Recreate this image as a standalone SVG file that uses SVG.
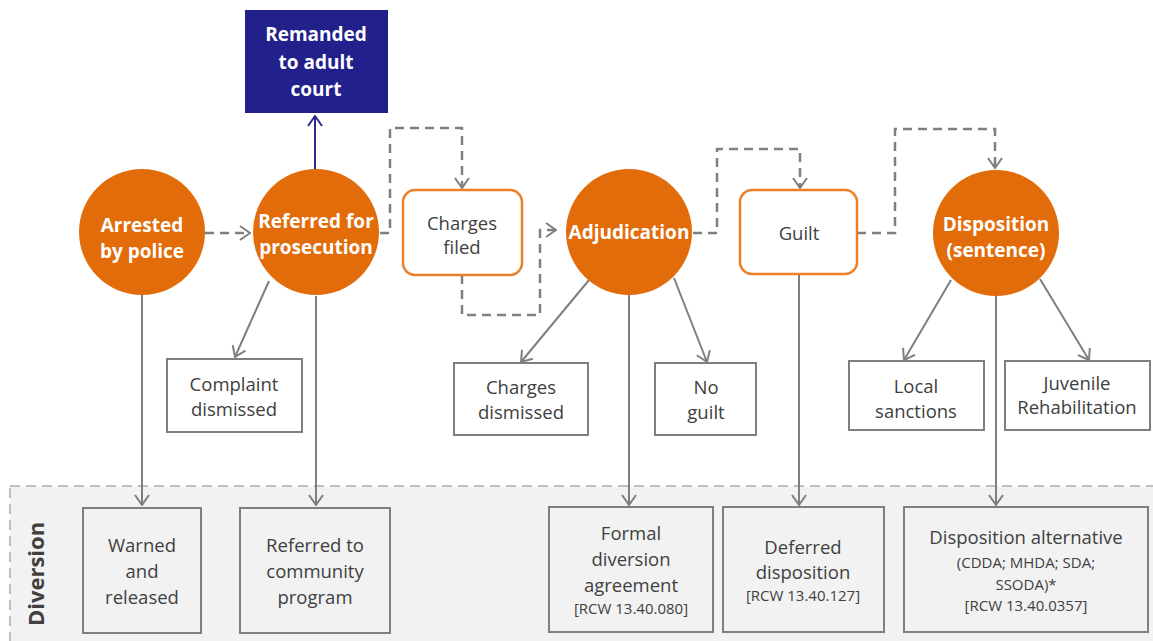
<svg xmlns="http://www.w3.org/2000/svg" width="1153" height="641" viewBox="0 0 1153 641">
<style>
.circ{fill:#e36c0a}
.ct{font-family:"Open Sans","Noto Sans",sans-serif;font-weight:bold;font-size:19px;fill:#fff;text-anchor:middle}
.ob{fill:#fff;stroke:#e97f2a;stroke-width:2.5}
.gb{fill:#fff;stroke:#7f7f7f;stroke-width:2}
.db{fill:#f2f2f2;stroke:#7f7f7f;stroke-width:2}
.t{font-family:"Open Sans","Noto Sans",sans-serif;font-size:18.5px;fill:#404040;text-anchor:middle}
.s{font-family:"Open Sans","Noto Sans",sans-serif;font-size:15px;fill:#404040;text-anchor:middle}
.dash{fill:none;stroke:#7f7f7f;stroke-width:2.5;stroke-dasharray:9 6}
.sol{fill:none;stroke:#7f7f7f;stroke-width:2}
</style>
<defs>
<marker id="ag" viewBox="0 0 12 16" refX="11" refY="8" markerWidth="12" markerHeight="16" markerUnits="userSpaceOnUse" orient="auto"><path d="M1,1 L11,8 L1,15" fill="none" stroke="#7f7f7f" stroke-width="2"/></marker>
<marker id="ab" viewBox="0 0 12 16" refX="11" refY="8" markerWidth="12" markerHeight="16" markerUnits="userSpaceOnUse" orient="auto"><path d="M1,1 L11,8 L1,15" fill="none" stroke="#2b2b8c" stroke-width="2"/></marker>
</defs>
<rect width="1153" height="641" fill="#fff"/>
<g id="diversion-zone">
<rect x="10" y="486" width="1170" height="180" fill="#f2f2f2" stroke="#bfbfbf" stroke-width="2" stroke-dasharray="10 6"/>
<text transform="translate(44,574) rotate(-90)" font-family="Open Sans, Noto Sans, sans-serif" font-weight="bold" font-size="22" fill="#404040" text-anchor="middle">Diversion</text>
</g>
<g id="connectors">
<path class="dash" d="M205,233 H250" marker-end="url(#ag)"/>
<path class="dash" d="M380,233 H390 V128 H462 V188" marker-end="url(#ag)"/>
<path class="dash" d="M462,275 V315 H540 V230 H556" marker-end="url(#ag)"/>
<path class="dash" d="M693,233 H717 V149 H800 V188" marker-end="url(#ag)"/>
<path class="dash" d="M857,233 H895 V129 H995 V168" marker-end="url(#ag)"/>
<path d="M315,170 V116" fill="none" stroke="#2b2b8c" stroke-width="2" marker-end="url(#ab)"/>
<path class="sol" d="M142,295 V505" marker-end="url(#ag)"/>
<path class="sol" d="M316,296 V505" marker-end="url(#ag)"/>
<path class="sol" d="M629,295 V505" marker-end="url(#ag)"/>
<path class="sol" d="M799,274 V505" marker-end="url(#ag)"/>
<path class="sol" d="M996,296 V505" marker-end="url(#ag)"/>
<path class="sol" d="M269,281 L235,357" marker-end="url(#ag)"/>
<path class="sol" d="M589,280 L521,362" marker-end="url(#ag)"/>
<path class="sol" d="M674,278 L707,362" marker-end="url(#ag)"/>
<path class="sol" d="M951,280 L904,360" marker-end="url(#ag)"/>
<path class="sol" d="M1040,279 L1089,360" marker-end="url(#ag)"/>
</g>
<g id="remanded">
<rect x="245" y="10" width="143" height="103" fill="#22208a"/>
<text class="ct" x="316" y="41">Remanded</text>
<text class="ct" x="316" y="69">to adult</text>
<text class="ct" x="316" y="96">court</text>
</g>
<g id="arrested">
<circle class="circ" cx="142" cy="232" r="63"/>
<text class="ct" x="142" y="232">Arrested</text>
<text class="ct" x="142" y="258">by police</text>
</g>
<g id="referred">
<circle class="circ" cx="316" cy="232" r="63"/>
<text class="ct" x="316" y="228">Referred for</text>
<text class="ct" x="316" y="254">prosecution</text>
</g>
<g id="charges-filed">
<rect class="ob" x="403" y="190" width="119" height="85" rx="12"/>
<text class="t" x="462" y="230">Charges</text>
<text class="t" x="462" y="254">filed</text>
</g>
<g id="adjudication">
<circle class="circ" cx="629" cy="232" r="63"/>
<text class="ct" x="629" y="239">Adjudication</text>
</g>
<g id="guilt">
<rect class="ob" x="740" y="190" width="117" height="84" rx="12"/>
<text class="t" x="799" y="240" font-size="19.5">Guilt</text>
</g>
<g id="disposition">
<circle class="circ" cx="996" cy="233" r="63"/>
<text class="ct" x="996" y="231">Disposition</text>
<text class="ct" x="996" y="257">(sentence)</text>
</g>
<g id="complaint-dismissed">
<rect class="gb" x="167" y="359" width="135" height="73"/>
<text class="t" x="234" y="391">Complaint</text>
<text class="t" x="234" y="416">dismissed</text>
</g>
<g id="charges-dismissed">
<rect class="gb" x="454" y="363" width="134" height="72"/>
<text class="t" x="521" y="394">Charges</text>
<text class="t" x="521" y="419">dismissed</text>
</g>
<g id="no-guilt">
<rect class="gb" x="655" y="363" width="101" height="72"/>
<text class="t" x="706" y="394">No</text>
<text class="t" x="706" y="419">guilt</text>
</g>
<g id="local-sanctions">
<rect class="gb" x="849" y="361" width="135" height="69"/>
<text class="t" x="916" y="393">Local</text>
<text class="t" x="916" y="418">sanctions</text>
</g>
<g id="juvenile-rehab">
<rect class="gb" x="1005" y="361" width="145" height="69"/>
<text class="t" x="1077" y="390" font-size="17">Juvenile</text>
<text class="t" x="1077" y="414" font-size="17">Rehabilitation</text>
</g>
<g id="warned">
<rect class="db" x="83" y="508" width="118" height="125"/>
<text class="t" x="142" y="552">Warned</text>
<text class="t" x="142" y="578">and</text>
<text class="t" x="142" y="604">released</text>
</g>
<g id="community">
<rect class="db" x="240" y="508" width="150" height="125"/>
<text class="t" x="315" y="552">Referred to</text>
<text class="t" x="315" y="578">community</text>
<text class="t" x="315" y="604">program</text>
</g>
<g id="formal-diversion">
<rect class="db" x="549" y="507" width="164" height="125"/>
<text class="t" x="631" y="540">Formal</text>
<text class="t" x="631" y="566">diversion</text>
<text class="t" x="631" y="592">agreement</text>
<text class="s" x="631" y="614">[RCW 13.40.080]</text>
</g>
<g id="deferred">
<rect class="db" x="723" y="507" width="161" height="125"/>
<text class="t" x="803" y="554">Deferred</text>
<text class="t" x="803" y="579">disposition</text>
<text class="s" x="803" y="601">[RCW 13.40.127]</text>
</g>
<g id="disposition-alt">
<rect class="db" x="904" y="507" width="244" height="125"/>
<text class="t" x="1026" y="544">Disposition alternative</text>
<text class="s" x="1026" y="568">(CDDA; MHDA; SDA;</text>
<text class="s" x="1026" y="590">SSODA)*</text>
<text class="s" x="1026" y="611">[RCW 13.40.0357]</text>
</g>
</svg>
